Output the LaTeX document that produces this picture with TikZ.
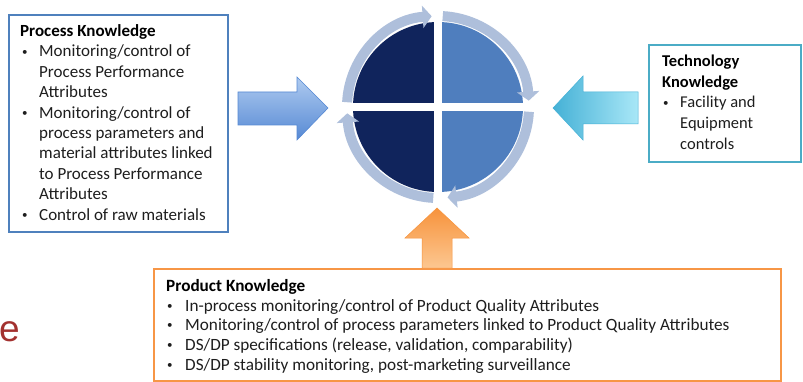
\documentclass[tikz,border=0pt]{standalone}
\usepackage{fontspec}
\setmainfont{Carlito}
\newfontfamily\arialfont{Liberation Sans}
\usetikzlibrary{arrows.meta}
\definecolor{navyq}{HTML}{10245C}
\definecolor{blueq}{HTML}{4F7EBE}
\definecolor{ringc}{HTML}{AEBFDB}
\definecolor{pbord}{HTML}{4F81BD}
\definecolor{tbord}{HTML}{4BACC6}
\definecolor{obord}{HTML}{F79646}
\definecolor{txt}{HTML}{1E1E1E}
\definecolor{redtxt}{HTML}{A3312F}
\definecolor{blueA}{HTML}{AFCBF0}
\definecolor{blueB}{HTML}{5689D4}
\definecolor{cyanA}{HTML}{45B1D6}
\definecolor{cyanB}{HTML}{A9E7F7}
\definecolor{orA}{HTML}{F7933C}
\definecolor{orB}{HTML}{FCC791}
\newcommand\smallbul{\raisebox{1.8pt}{\fontsize{11}{11}\selectfont\textbullet}}
\tikzset{
  kbox/.style={draw=#1, line width=1.8pt},
  ln/.style={anchor=base west, inner sep=0pt, text=txt},
  ttl/.style={anchor=base west, inner sep=0pt, text=black},
  ringarc/.style={draw=ringc, line width=10pt, -{Triangle[width=22pt,length=9pt]}},
  bigarrowL/.style={top color=blueA, bottom color=blueB, draw=blueB, line width=0.6pt},
}
\begin{document}
\begin{tikzpicture}[x=1pt,y=1pt]
\useasboundingbox[fill=white] (0,0) rectangle (803,-382);

% boxes
\draw[kbox=pbord] (9,-15) rectangle (228,-232);
\draw[kbox=tbord] (649,-45) rectangle (801,-162);
\draw[kbox=obord] (154,-269) rectangle (781,-381);

% central circle
\coordinate (c) at (438,-107);
\fill[navyq] (c) -- ++(0,85) arc[start angle=90,end angle=270,radius=85] -- cycle;
\fill[blueq] (c) -- ++(0,85) arc[start angle=90,end angle=-90,radius=85] -- cycle;
\draw[white, line width=8pt] ([xshift=-90pt]c) -- ([xshift=90pt]c);
\draw[white, line width=8pt] ([yshift=-90pt]c) -- ([yshift=90pt]c);

% ring arrows (clockwise)
\draw[ringarc] ([shift={(177:91)}]c) arc[start angle=177,end angle=94,radius=91];
\draw[ringarc] ([shift={(87:91)}]c) arc[start angle=87,end angle=4,radius=91];
\draw[ringarc] ([shift={(-3:91)}]c) arc[start angle=-3,end angle=-84,radius=91];
\draw[ringarc] ([shift={(-93:91)}]c) arc[start angle=-93,end angle=-176,radius=91];

% left arrow (blue)
\path[bigarrowL] (238,-92) -- (297,-92) -- (297,-77) -- (328,-108) -- (297,-140) -- (297,-125) -- (238,-125) -- cycle;
% right arrow (cyan)
\path[left color=cyanA, right color=cyanB, draw=cyanA, line width=0.5pt]
  (638,-92) -- (583,-92) -- (583,-76) -- (553,-108) -- (583,-140) -- (583,-124) -- (638,-124) -- cycle;
% up arrow (orange)
\path[top color=orA, bottom color=orB, draw=orA, line width=0.5pt]
  (422,-268) -- (422,-238) -- (405,-238) -- (437,-208) -- (469,-238) -- (452,-238) -- (452,-268) -- cycle;

% Process Knowledge text
\begin{scope}[font=\fontsize{17}{20}\selectfont]
\node[ttl] (pt) at (20,-37) {\bfseries Process Knowledge};
\foreach \t [count=\i] in {Monitoring/control of, Process Performance, Attributes, Monitoring/control of, process parameters and, material attributes linked, to Process Performance, Attributes, Control of raw materials}
  \node[ln] (pl\i) at (39,{-57-20.4*(\i-1)}) {\t};
\foreach \i in {1,4,9}
  \node[ln] (pb\i) at (22,{-57-20.4*(\i-1)}) {\smallbul};
\end{scope}

% Technology Knowledge text
\begin{scope}[font=\fontsize{16.5}{20}\selectfont]
\node[ttl] (tt1) at (662,-67) {\bfseries Technology};
\node[ttl] (tt2) at (662,-88) {\bfseries Knowledge};
\node[ln] (tb1) at (663,-108) {\smallbul};
\node[ln] (tl1) at (680,-108) {Facility and};
\node[ln] (tl2) at (680,-129) {Equipment};
\node[ln] (tl3) at (680,-150) {controls};
\end{scope}

% Product Knowledge text
\begin{scope}[font=\fontsize{17.2}{20}\selectfont]
\node[ttl] (prt) at (166,-291) {\bfseries Product Knowledge};
\foreach \t [count=\i] in {In-process monitoring/control of Product Quality Attributes, Monitoring/control of process parameters linked to Product Quality Attributes, {DS/DP specifications (release, validation, comparability)}, {DS/DP stability monitoring, post-marketing surveillance}}
  {\node[ln] (prl\i) at (185,{-311-19.7*(\i-1)}) {\t};
   \node[ln] (prb\i) at (167,{-311-19.7*(\i-1)}) {\smallbul};}
\end{scope}

% red letter
\node[anchor=base west, inner sep=0pt, text=redtxt, font=\arialfont\fontsize{37}{40}\selectfont] (re) at (-1,-341) {e};
\end{tikzpicture}
\end{document}
